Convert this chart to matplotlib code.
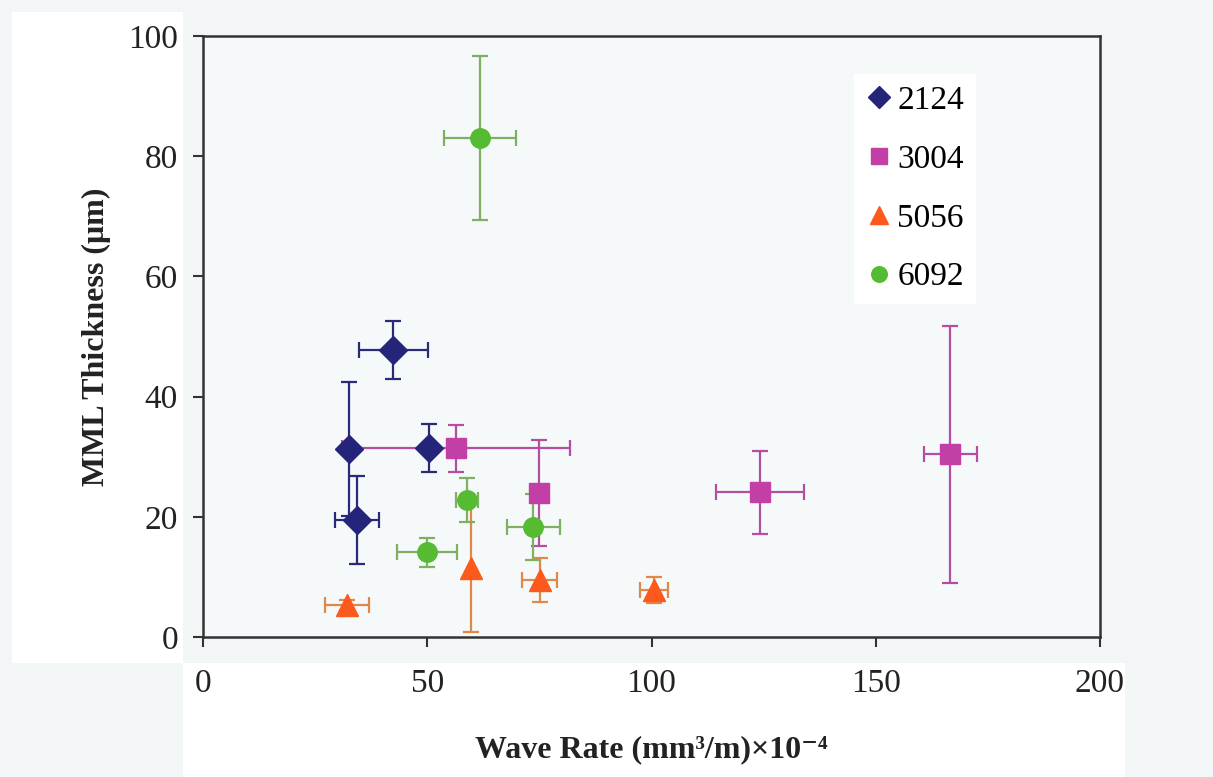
import matplotlib
matplotlib.use("Agg")
import matplotlib.pyplot as plt
from matplotlib.patches import Rectangle

# ---- data ----
x_2124 = [42.4, 32.6, 34.3, 50.4]
y_2124 = [47.8, 31.3, 19.5, 31.4]
xerr_2124 = [7.7, 0.0, 4.9, 0.0]
yerr_2124 = [4.8, 11.2, 7.3, 4.0]

x_3004 = [56.4, 74.9, 124.2, 166.6]
y_3004 = [31.4, 24.0, 24.1, 30.4]
xerr_3004 = [25.5, 0.0, 9.9, 5.9]
yerr_3004 = [3.9, 8.8, 6.9, 21.4]

x_5056 = [32.1, 59.8, 75.1, 100.6]
y_5056 = [5.3, 11.5, 9.5, 7.8]
xerr_5056 = [4.9, 0.0, 3.9, 3.1]
yerr_5056 = [0.8, 10.7, 3.6, 2.2]

x_6092 = [61.8, 49.9, 58.8, 73.6]
y_6092 = [83.0, 14.1, 22.8, 18.3]
xerr_6092 = [8.0, 6.7, 2.5, 5.9]
yerr_6092 = [13.6, 2.4, 3.7, 5.5]

x_ticks = [0, 50, 100, 150, 200]
y_ticks = [0, 20, 40, 60, 80, 100]

series = [
    ("2124", x_2124, y_2124, xerr_2124, yerr_2124, "D", 14, "#23247a", "#2a2b78"),
    ("3004", x_3004, y_3004, xerr_3004, yerr_3004, "s", 15, "#c23fa6", "#b44ea0"),
    ("5056", x_5056, y_5056, xerr_5056, yerr_5056, "^", 16, "#fb5a1c", "#e0884a"),
    ("6092", x_6092, y_6092, xerr_6092, yerr_6092, "o", 14, "#55bb33", "#7faf63"),
]

serif = ["Liberation Serif", "DejaVu Serif"]
plt.rcParams["font.family"] = serif

fig = plt.figure(figsize=(12.13, 7.77), dpi=100, facecolor="#f3f6f6")
# white panels behind the tick labels
fig.patches.append(Rectangle((12 / 1213, 114 / 777), 171 / 1213, 651 / 777,
                             transform=fig.transFigure, facecolor="white",
                             edgecolor="none", zorder=-10))
fig.patches.append(Rectangle((183 / 1213, 0), 942 / 1213, 114 / 777,
                             transform=fig.transFigure, facecolor="white",
                             edgecolor="none", zorder=-10))

ax = fig.add_axes([203 / 1213, 140 / 777, 897 / 1213, 601 / 777])
ax.set_facecolor("#f6f9f9")

for label, xs, ys, xe, ye, mk, ms, mc, ec in series:
    ax.errorbar(xs, ys, xerr=xe, yerr=ye, fmt="none", ecolor=ec,
                elinewidth=1.6, capsize=5.5, capthick=1.6, zorder=2)
    ax.plot(xs, ys, linestyle="none", marker=mk, markersize=ms,
            color=mc, markeredgecolor=mc, label=label, zorder=3)

ax.set_xlim(0, 200)
ax.set_ylim(0, 100)
ax.set_xticks(x_ticks)
ax.set_yticks(y_ticks)
ax.tick_params(axis="both", direction="out", length=7, width=1.5,
               color="#333333", labelsize=24, labelcolor="#222222")
ax.tick_params(axis="x", pad=16)
ax.tick_params(axis="y", pad=11)
for sp in ax.spines.values():
    sp.set_linewidth(1.8)
    sp.set_color("#333333")

ax.set_xlabel("Wave Rate (mm³/m)×10⁻⁴", fontsize=23, fontweight="bold",
              labelpad=26, color="#222222")
ax.set_ylabel("MML Thickness (μm)", fontsize=23, fontweight="bold",
              labelpad=12, color="#222222")

leg = ax.legend(loc="upper left", bbox_to_anchor=(0.707, 0.965),
                fontsize=24, frameon=True, fancybox=False, labelspacing=0.85,
                handlelength=0.8, handletextpad=0.15, borderpad=0.35,
                markerscale=0.8)
leg.get_frame().set_facecolor("white")
leg.get_frame().set_edgecolor("none")
leg.get_frame().set_alpha(1.0)

fig.savefig("out.png", dpi=100, facecolor=fig.get_facecolor())
